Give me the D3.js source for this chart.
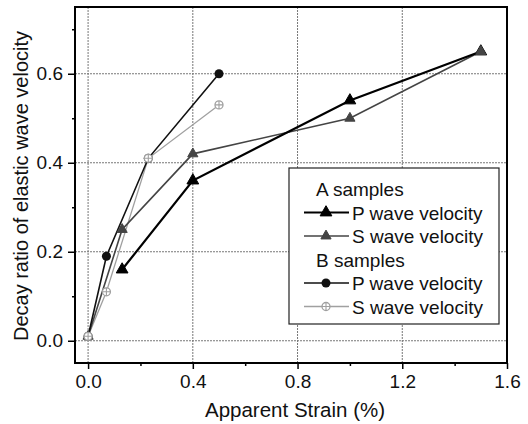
<!DOCTYPE html>
<html>
<head>
<meta charset="utf-8">
<script src="https://cdn.jsdelivr.net/npm/d3@7"></script>
<style>
  body { margin: 0; background: #fff; }
  text { font-family: "Liberation Sans", Arial, sans-serif; fill: #111; }
</style>
</head>
<body>
<svg width="528" height="424"></svg>
<script>
// data
var aPStrain = [0.13, 0.4, 1.0, 1.5];
var aPDecay = [0.16, 0.36, 0.54, 0.65];
var aSStrain = [0, 0.13, 0.4, 1.0, 1.5];
var aSDecay = [0.01, 0.25, 0.42, 0.50, 0.65];
var bPStrain = [0, 0.07, 0.23, 0.5];
var bPDecay = [0.01, 0.19, 0.41, 0.60];
var bSStrain = [0, 0.07, 0.23, 0.5];
var bSDecay = [0.01, 0.11, 0.41, 0.53];
var xTicks = [0, 0.4, 0.8, 1.2, 1.6];
var yTicks = [0, 0.2, 0.4, 0.6];

function zip(xs, ys) {
  return xs.map(function (x, i) { return { x: x, y: ys[i] }; });
}

var series = [
  { name: 'P wave velocity', data: zip(aPStrain, aPDecay), color: '#000', width: 2.2, marker: 'triFill' },
  { name: 'S wave velocity', data: zip(aSStrain, aSDecay), color: '#444', width: 1.6, marker: 'tri' },
  { name: 'P wave velocity', data: zip(bPStrain, bPDecay), color: '#111', width: 1.6, marker: 'dot' },
  { name: 'S wave velocity', data: zip(bSStrain, bSDecay), color: '#a0a0a0', width: 1.3, marker: 'cross' },
];

var svg = d3.select('svg'),
  margin = { top: 7, right: 21, bottom: 61, left: 75 },
  width = +svg.attr('width') - margin.left - margin.right,
  height = +svg.attr('height') - margin.top - margin.bottom;

var x = d3.scaleLinear().domain([-0.05, 1.6]).range([0, width]);
var y = d3.scaleLinear().domain([-0.05, 0.75]).range([height, 0]);

var g = svg.append('g')
  .attr('transform', 'translate(' + margin.left + ',' + margin.top + ')');

// grid
g.append('g').selectAll('line')
  .data(xTicks.slice(0, -1))
  .join('line')
  .attr('x1', function (d) { return x(d); })
  .attr('x2', function (d) { return x(d); })
  .attr('y1', 0).attr('y2', height)
  .attr('stroke', '#777').attr('stroke-width', 1).attr('stroke-dasharray', '2,1');
g.append('g').selectAll('line')
  .data(yTicks)
  .join('line')
  .attr('y1', function (d) { return y(d); })
  .attr('y2', function (d) { return y(d); })
  .attr('x1', 0).attr('x2', width)
  .attr('stroke', '#777').attr('stroke-width', 1).attr('stroke-dasharray', '2,1');

// axes
var xAxis = d3.axisBottom(x).tickValues(xTicks).tickFormat(d3.format('.1f')).tickSize(6).tickPadding(6);
var xMinor = d3.axisBottom(x).tickValues([0.2, 0.6, 1.0, 1.4]).tickFormat('').tickSize(3);
var yAxis = d3.axisLeft(y).tickValues(yTicks).tickFormat(d3.format('.1f')).tickSize(7).tickPadding(5);
var yMinor = d3.axisLeft(y).tickValues([0.1, 0.3, 0.5, 0.7]).tickFormat('').tickSize(3);

function styleAxis(sel) {
  sel.select('.domain').remove();
  sel.selectAll('line').attr('stroke', '#000').attr('stroke-width', 1.5);
  sel.selectAll('text').attr('font-size', 19).attr('fill', '#111');
}

g.append('g').attr('transform', 'translate(0,' + height + ')').call(xAxis).call(styleAxis);
g.append('g').attr('transform', 'translate(0,' + height + ')').call(xMinor).call(styleAxis);
g.append('g').call(yAxis).call(styleAxis);
g.append('g').call(yMinor).call(styleAxis);

// frame
g.append('rect')
  .attr('width', width).attr('height', height)
  .attr('fill', 'none').attr('stroke', '#000').attr('stroke-width', 2);

// axis titles
svg.append('text')
  .attr('x', 295)
  .attr('y', 417)
  .attr('text-anchor', 'middle')
  .attr('font-size', 20.5)
  .text('Apparent Strain (%)');
svg.append('text')
  .attr('transform', 'translate(28,186) rotate(-90)')
  .attr('text-anchor', 'middle')
  .attr('font-size', 20)
  .text('Decay ratio of elastic wave velocity');

// lines
var line = d3.line()
  .x(function (d) { return x(d.x); })
  .y(function (d) { return y(d.y); });

function drawMarker(sel, s) {
  if (s.marker === 'triFill' || s.marker === 'tri') {
    sel.append('path')
      .attr('d', d3.symbol().type(d3.symbolTriangle).size(s.marker === 'triFill' ? 60 : 45)())
      .attr('fill', s.color)
      .attr('stroke', s.color).attr('stroke-width', 1);
  } else if (s.marker === 'dot') {
    sel.append('circle').attr('r', 4.5).attr('fill', s.color);
  } else {
    sel.append('circle').attr('r', 4).attr('fill', '#fff')
      .attr('stroke', s.color).attr('stroke-width', 1.3);
    sel.append('path').attr('d', 'M-4,0H4M0,-4V4')
      .attr('stroke', s.color).attr('stroke-width', 1.1);
  }
}

// lines first, grey under black
[3, 1, 2, 0].forEach(function (i) {
  var s = series[i];
  g.append('path')
    .datum(s.data)
    .attr('d', line)
    .attr('fill', 'none')
    .attr('stroke', s.color)
    .attr('stroke-width', s.width);
});

// markers on top, S markers last (they show over the P dots in the picture)
[2, 0, 1, 3].forEach(function (i) {
  var s = series[i];
  g.selectAll(null)
    .data(s.data)
    .join('g')
    .attr('transform', function (d) { return 'translate(' + x(d.x) + ',' + y(d.y) + ')'; })
    .each(function () { drawMarker(d3.select(this), s); });
});

// legend
var legend = svg.append('g').attr('transform', 'translate(289,168)');
legend.append('rect')
  .attr('width', 210).attr('height', 156)
  .attr('fill', '#fff').attr('stroke', '#222').attr('stroke-width', 1.2);

var rows = [
  { label: 'A samples' },
  { label: series[0].name, s: series[0] },
  { label: series[1].name, s: series[1] },
  { label: 'B samples' },
  { label: series[2].name, s: series[2] },
  { label: series[3].name, s: series[3] },
];

rows.forEach(function (r, i) {
  var cy = 21 + i * 23.5;
  if (!r.s) {
    legend.append('text').attr('x', 27).attr('y', cy + 7)
      .attr('font-size', 19).text(r.label);
    return;
  }
  legend.append('line')
    .attr('x1', 15).attr('x2', 60).attr('y1', cy).attr('y2', cy)
    .attr('stroke', r.s.color).attr('stroke-width', r.s.width);
  drawMarker(legend.append('g').attr('transform', 'translate(37,' + cy + ')'), r.s);
  legend.append('text').attr('x', 63).attr('y', cy + 7)
    .attr('font-size', 19).text(r.label);
});
</script>
</body>
</html>
